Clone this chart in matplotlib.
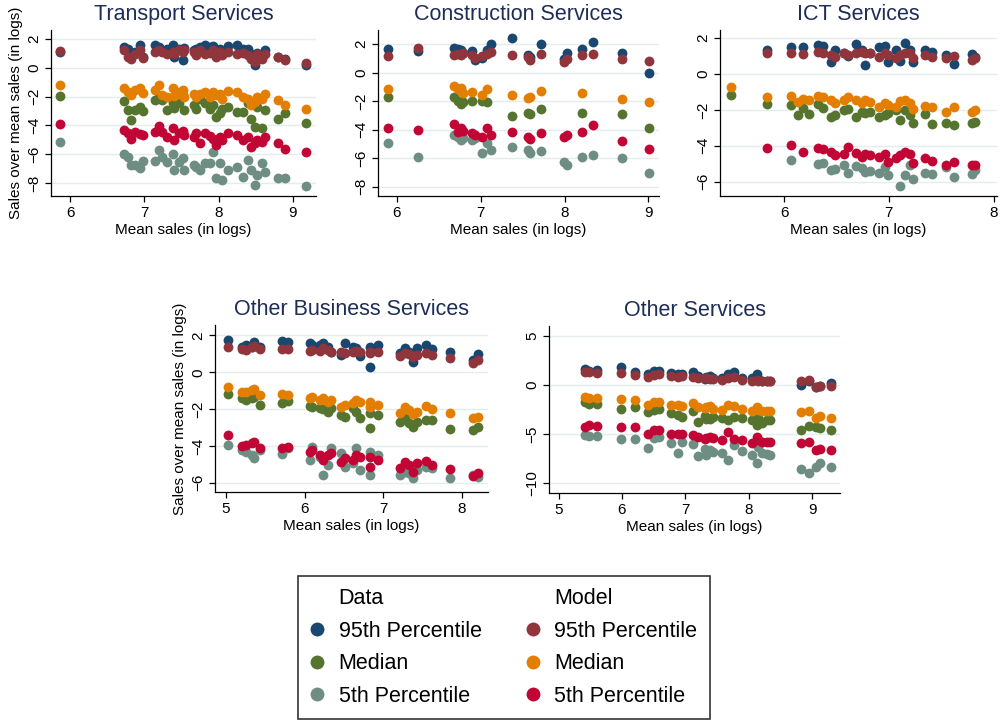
import numpy as np
import matplotlib.pyplot as plt
from matplotlib.lines import Line2D

plt.rcParams['font.family'] = ['Liberation Sans', 'DejaVu Sans']

nan = np.nan

# ── Transport Services ───────────────────────────────────────────────────────
trans_x = [5.87, 6.72, 6.78, 6.82, 6.87, 6.94, 6.98, 7.14, 7.20, 7.24, 7.30, 7.38, 7.40,
           7.46, 7.52, 7.54, 7.67, 7.70, 7.75, 7.81, 7.88, 7.93, 7.97, 8.02, 8.05, 8.13,
           8.24, 8.33, 8.40, 8.44, 8.49, 8.51, 8.58, 8.62, 8.80, 8.89, 9.18]
trans_d95 = [1.10, 1.43, 1.30, 0.70, 1.10, 1.54, 0.75, 1.54, 1.43, 1.20, 1.30, 1.59, 0.74,
             1.30, 0.55, 1.36, 1.20, 1.31, 1.43, 1.54, 1.43, 1.47, 1.30, 1.31, 1.10, 1.47,
             1.54, 1.31, 1.31, 0.97, 0.16, 1.00, 0.74, 1.20, 0.74, 0.62, 0.16]
trans_dmed = [-1.98, -2.30, -2.90, -3.59, -2.94, -2.71, -2.99, -2.25, -2.02, -2.25, -2.94, -2.48, -2.76,
              -2.48, -1.91, -2.94, -2.60, -2.83, -2.14, -2.48, -2.83, -2.60, -3.40, -3.17, -2.83, -2.71,
              -3.06, -3.06, -2.48, -3.52, -4.09, -2.71, -4.20, -2.94, -3.52, -3.17, -3.82]
trans_d5 = [-5.17, -6.00, -6.16, -6.74, -6.74, -6.97, -6.46, -6.46, -5.66, -6.16, -6.50, -5.98, -7.08,
            -6.50, -6.28, -7.08, -6.74, -6.85, -7.08, -6.62, -6.62, -5.82, -7.66, -6.62, -7.77, -7.08,
            -6.85, -7.54, -6.39, -7.08, -8.11, -7.40, -6.62, -7.20, -7.66, -7.66, -8.18]
trans_m95 = [1.13, 1.24, 0.74, 0.62, 0.97, 1.20, 0.69, 1.08, 1.20, 1.08, 0.97, 1.08, 0.97,
             1.20, 1.08, 1.24, 1.08, 0.85, 1.20, 0.97, 1.01, 1.20, 0.74, 1.08, 0.85, 1.08,
             0.97, 1.01, 0.85, 0.62, 0.39, 0.97, 0.62, 0.97, 0.74, 0.51, 0.32]
trans_mmed = [-1.22, -1.38, -1.68, -1.86, -1.56, -1.38, -1.75, -1.56, -1.22, -1.90, -2.02, -1.38, -1.98,
              -1.68, -1.52, -2.02, -1.79, -2.02, -1.79, -1.68, -2.02, -1.68, -1.91, -1.79, -2.14, -1.61,
              -1.68, -2.02, -2.14, -2.60, -2.37, -2.02, -2.14, -1.79, -2.21, -2.60, -2.83]
trans_m5 = [-3.93, -4.32, -4.55, -4.90, -4.44, -4.60, -4.67, -4.48, -4.05, -4.44, -4.78, -4.20, -5.01,
            -4.55, -4.37, -4.67, -4.78, -4.55, -5.24, -4.55, -4.74, -4.90, -5.36, -4.78, -5.01, -4.55,
            -4.67, -5.01, -4.78, -5.47, -5.24, -5.01, -5.13, -4.78, -5.24, -5.59, -5.82]

# ── Construction Services ────────────────────────────────────────────────────
cons_x = [5.89, 6.25, 6.68, 6.73, 6.77, 6.79, 6.89, 6.93, 7.01, 7.08, 7.12, 7.37, 7.56,
          7.59, 7.72, 7.99, 8.03, 8.21, 8.34, 8.68, 9.01]
cons_d95 = [1.64, 1.54, 1.71, 1.64, 1.59, 1.40, 1.54, 0.89, 1.00, 1.59, 1.99, 2.41, 1.24,
            1.10, 1.99, 0.94, 1.36, 1.64, 2.18, 1.40, 0.00]
cons_dmed = [-1.68, nan, -1.68, -1.96, -2.20, -2.04, -1.96, nan, -1.96, -2.04, nan, -3.04, -2.85,
             -2.90, -2.53, nan, nan, -2.85, nan, -2.92, -3.91]
cons_d5 = [-4.91, -5.94, -4.37, -4.54, -4.73, -4.61, -4.73, -4.60, -5.61, -4.91, -5.43, -5.24, -5.43,
           -5.61, -5.47, -6.25, -6.48, -5.89, -5.78, -6.01, -7.02]
cons_m95 = [1.17, 1.71, 1.24, 1.31, 1.24, 1.36, 1.24, 1.00, 1.17, 1.31, 1.47, 1.24, 1.08,
            0.89, 1.29, 0.77, 0.94, 1.24, 1.31, 0.94, 0.82]
cons_mmed = [-1.17, nan, -0.94, -1.17, -1.10, -1.45, -1.33, nan, -1.57, -1.17, nan, -1.57, -1.80,
             -1.73, -1.26, nan, nan, -1.40, nan, -1.87, -2.04]
cons_m5 = [-3.91, -4.02, -3.60, -4.14, -3.91, -4.07, -4.21, -4.37, -4.54, -3.91, -4.37, -4.14, -4.54,
           -4.68, -4.21, -4.54, -4.37, -4.14, -3.67, -4.77, -5.38]

# ── ICT Services ─────────────────────────────────────────────────────────────
ict_x = [5.49, 5.84, 6.07, 6.13, 6.18, 6.24, 6.32, 6.37, 6.45, 6.49, 6.57, 6.61, 6.69,
         6.74, 6.77, 6.82, 6.91, 6.96, 6.99, 7.07, 7.11, 7.15, 7.20, 7.23, 7.34, 7.41,
         7.54, 7.62, 7.79, 7.82]
ict_d95 = [nan, 1.34, 1.49, nan, 1.49, nan, 1.62, 1.55, 0.69, 1.34, 1.15, 1.00, 1.67,
           1.34, 0.50, 1.15, 1.49, 1.56, 0.69, 1.34, 0.74, 1.71, 1.34, 0.69, 1.34, 1.25,
           1.06, 0.56, 1.12, 0.97]
ict_dmed = [-1.17, -1.67, -1.73, -2.29, -1.91, -2.25, -1.67, -1.91, -2.38, -2.29, -2.01, -1.97, -2.38,
            -2.10, -2.19, -2.10, -2.42, -2.29, -2.19, -2.01, -2.57, -2.01, -2.29, -2.75, -2.23, -2.79,
            -2.71, -2.84, -2.75, -2.66]
ict_d5 = [nan, nan, -4.80, nan, nan, nan, -5.02, -4.94, -5.35, -5.32, -5.07, -5.50, -5.13,
          -5.26, -5.45, -5.39, -5.54, -5.17, -5.63, nan, -6.25, -5.63, -5.07, -5.87, -5.54, -5.58,
          -5.17, -5.72, -5.58, -5.35]
ict_m95 = [nan, 1.19, 1.15, nan, 1.12, nan, 1.25, 1.19, 1.06, 0.97, 1.19, 1.06, 1.19,
           1.25, 1.19, 1.19, 0.97, 1.19, 1.06, 0.87, 1.06, 1.15, 1.19, 0.87, 1.06, 0.97,
           0.87, 1.00, 0.78, 0.87]
ict_mmed = [-0.74, -1.30, -1.21, -1.54, -1.41, -1.45, -1.23, -1.30, -1.45, -1.60, -1.45, -1.30, -1.45,
            -1.64, -1.45, -1.54, -1.82, -1.64, -1.73, -1.82, -1.49, -1.45, -1.60, -1.97, -1.78, -1.86,
            -2.10, -1.86, -2.10, -2.01]
ict_m5 = [nan, -4.14, -3.96, nan, -4.33, nan, -4.14, -4.20, -4.33, -4.52, -4.46, -4.05, -4.42,
          -4.61, -4.46, -4.52, -4.61, -4.46, -4.89, -4.70, -4.52, -4.33, -4.46, -4.94, -4.70, -4.83,
          -5.07, -4.89, -5.07, -5.07]

# ── Other Business Services ──────────────────────────────────────────────────
obs_x = [5.03, 5.20, 5.26, 5.33, 5.36, 5.43, 5.71, 5.79, 6.07, 6.10, 6.20, 6.24, 6.30,
         6.34, 6.47, 6.51, 6.62, 6.66, 6.71, 6.83, 6.84, 6.94, 7.21, 7.28, 7.33, 7.38,
         7.43, 7.55, 7.62, 7.85, 8.15, 8.21]
obs_d95 = [1.76, 1.35, 1.49, 1.36, 1.67, 1.36, 1.72, 1.67, 1.58, 1.49, 1.49, 1.58, 1.40,
           1.12, 0.94, 1.58, 1.39, 1.30, 0.89, 1.39, 0.27, 1.49, 1.03, 1.30, 1.12, 0.58,
           1.30, 1.49, 1.25, 1.12, 0.67, 1.00]
obs_dmed = [-1.18, -1.41, -1.50, -1.41, -1.32, -1.78, -1.68, -1.54, -1.83, -1.87, -1.96, -2.01, -2.14,
            -1.96, -2.32, -2.41, -1.96, -2.14, -2.50, -2.23, -3.04, -2.32, -2.68, -2.50, -2.77, -2.95,
            -2.68, -2.59, -2.59, -3.10, -3.13, -2.95]
obs_d5 = [-3.95, -4.22, -4.31, -4.49, -4.67, -4.22, -4.44, -4.10, -4.76, -4.04, -4.60, -5.58, -5.04,
          -4.13, -4.40, -5.13, -4.95, -4.13, -5.31, -4.31, -5.58, -4.49, -5.58, -5.40, -5.50, -5.76,
          -5.31, -5.13, -5.22, -5.76, -5.58, -5.67]
obs_m95 = [1.39, 1.25, 1.21, 1.36, 1.43, 1.25, 1.25, 1.25, 1.18, 1.21, 1.18, 1.30, 1.21,
           1.12, 1.12, 1.07, 1.12, 1.18, 1.12, 1.12, 1.03, 1.12, 0.89, 1.03, 0.99, 0.85,
           0.94, 1.03, 0.94, 0.80, 0.53, 0.67]
obs_mmed = [-0.78, -1.05, -1.05, -0.96, -0.92, -1.23, -1.18, -1.23, -1.41, -1.32, -1.50, -1.41, -1.59,
            -1.50, -1.87, -1.78, -1.68, -1.50, -1.59, -1.59, -1.87, -1.78, -2.19, -1.87, -2.05, -2.26,
            -2.14, -1.83, -2.01, -2.23, -2.50, -2.41]
obs_m5 = [-3.41, -4.00, -3.95, -3.86, -3.77, -4.13, -4.13, -4.08, -4.31, -4.22, -4.49, -4.76, -4.49,
          -4.40, -4.86, -4.67, -4.76, -4.49, -4.58, -4.58, -5.13, -4.76, -5.22, -4.86, -5.04, -5.40,
          -4.95, -4.80, -5.04, -5.27, -5.63, -5.49]

# ── Other Services ───────────────────────────────────────────────────────────
oth_x = [5.42, 5.48, 5.60, 5.98, 6.20, 6.41, 6.50, 6.59, 6.77, 6.89, 6.94, 7.12, 7.20,
         7.31, 7.33, 7.39, 7.44, 7.58, 7.68, 7.76, 7.90, 8.05, 8.13, 8.14, 8.21, 8.29,
         8.34, 8.82, 8.95, 9.06, 9.12, 9.30]
oth_d95 = [1.62, 1.45, 1.55, 1.85, 1.35, 1.11, 1.45, 1.38, 1.21, 1.10, 1.11, 1.28, 0.94,
           0.61, 0.80, 0.94, 0.70, 0.71, 1.11, 1.28, 0.71, 0.71, 1.11, 0.60, 0.40, 0.44,
           0.40, 0.00, 0.44, -0.24, -0.10, 0.17]
oth_dmed = [-1.75, -1.92, -1.92, -2.43, -2.26, -2.77, -2.53, -2.43, -2.87, -3.10, -3.27, -2.60, -3.78,
            -3.20, -3.50, -3.44, -3.30, -3.37, -3.54, -3.27, -3.34, -3.61, -4.11, -3.40, -3.88, -3.61,
            -3.54, -4.55, -4.22, -4.28, -4.35, -4.55]
oth_d5 = [-5.13, -5.20, -5.19, -5.46, -5.53, -6.37, -5.36, -5.30, -5.90, -6.91, -5.80, -5.97, -7.25,
          -6.48, -7.15, -6.64, -6.80, -6.91, -7.66, -6.14, -6.71, -7.15, -7.99, -6.31, -6.90, -6.98,
          -7.15, -8.50, -8.94, -8.33, -7.99, -8.33]
oth_m95 = [1.28, 1.28, 1.21, 1.21, 1.05, 0.84, 1.05, 1.11, 0.88, 0.84, 0.94, 0.84, 0.71,
           0.71, 0.70, 0.61, 0.61, 0.51, 0.71, 0.84, 0.51, 0.44, 0.51, 0.40, 0.37, 0.44,
           0.44, 0.44, 0.51, -0.17, -0.10, -0.07]
oth_mmed = [-1.18, -1.32, -1.32, -1.42, -1.48, -2.02, -1.69, -1.69, -2.02, -2.02, -2.09, -1.85, -2.26,
            -2.33, -2.20, -2.19, -2.43, -2.53, -1.99, -2.19, -2.43, -2.66, -2.26, -2.50, -2.66, -2.66,
            -2.66, -2.77, -2.66, -3.34, -3.20, -3.34]
oth_m5 = [-4.28, -4.11, -4.22, -4.28, -4.28, -5.03, -4.62, -4.62, -4.96, -5.03, -5.03, -5.13, -5.30,
          -5.46, -5.40, -5.30, -5.36, -5.56, -4.79, -5.46, -5.63, -5.90, -5.30, -5.60, -5.80, -5.80,
          -5.80, -5.90, -5.80, -6.58, -6.48, -6.58]

series_labels = ['95th Percentile', 'Median', '5th Percentile']
data_colors = ['#1a476f', '#55752f', '#6e8e84']
model_colors = ['#90353b', '#e37e00', '#c10534']
title_color = '#1e2d58'
grid_color = '#e3ecee'

fig = plt.figure(figsize=(10.01, 7.24), dpi=100)
fig.patch.set_facecolor('white')


def panel(rect, title, x, data, model, xlim, ylim, xticks, yticks, ylabel=False):
    ax = fig.add_axes(rect)
    for ys, c in zip(data, data_colors):
        ax.scatter(x, ys, s=50, color=c, linewidths=0, zorder=3)
    for ys, c in zip(model, model_colors):
        ax.scatter(x, ys, s=50, color=c, linewidths=0, zorder=4)
    ax.set_xlim(*xlim)
    ax.set_ylim(*ylim)
    ax.set_xticks(xticks)
    ax.set_yticks(yticks)
    ax.grid(axis='y', color=grid_color, linewidth=1.0, zorder=0)
    ax.set_axisbelow(True)
    for s in ['top', 'right']:
        ax.spines[s].set_visible(False)
    for s in ['left', 'bottom']:
        ax.spines[s].set_linewidth(0.9)
    ax.tick_params(direction='out', length=4, width=0.9, labelsize=11, colors='black')
    ax.tick_params(axis='y', labelrotation=90, pad=3)
    for lab in ax.get_yticklabels():
        lab.set_va('center')
    ax.set_title(title, color=title_color, fontsize=15.5, pad=7)
    ax.set_xlabel('Mean sales (in logs)', fontsize=11, labelpad=2)
    if ylabel:
        ax.set_ylabel('Sales over mean sales (in logs)', fontsize=11, labelpad=3)
    return ax


panel([0.0507, 0.7293, 0.265, 0.2293], 'Transport Services', trans_x,
      [trans_d95, trans_dmed, trans_d5], [trans_m95, trans_mmed, trans_m5],
      (5.74, 9.31), (-8.87, 2.6), [6, 7, 8, 9], [-8, -6, -4, -2, 0, 2], ylabel=True)

panel([0.3773, 0.7293, 0.2813, 0.2293], 'Construction Services', cons_x,
      [cons_d95, cons_dmed, cons_d5], [cons_m95, cons_mmed, cons_m5],
      (5.77, 9.13), (-8.65, 3.0), [6, 7, 8, 9], [-8, -6, -4, -2, 0, 2])

panel([0.7193, 0.7293, 0.2767, 0.2293], 'ICT Services', ict_x,
      [ict_d95, ict_dmed, ict_d5], [ict_m95, ict_mmed, ict_m5],
      (5.39, 8.03), (-6.8, 2.45), [6, 7, 8], [-6, -4, -2, 0, 2])

panel([0.2148, 0.3209, 0.273, 0.2302], 'Other Business Services', obs_x,
      [obs_d95, obs_dmed, obs_d5], [obs_m95, obs_mmed, obs_m5],
      (4.86, 8.34), (-6.49, 2.57), [5, 6, 7, 8], [-6, -4, -2, 0, 2], ylabel=True)

panel([0.5485, 0.3195, 0.2907, 0.2302], 'Other Services', oth_x,
      [oth_d95, oth_dmed, oth_d5], [oth_m95, oth_mmed, oth_m5],
      (4.85, 9.44), (-10.96, 6.0), [5, 6, 7, 8, 9], [-10, -5, 0, 5])

# legend: two columns, each with a header row
handles = [Line2D([], [], linestyle='none', marker='', label='Data')]
handles += [Line2D([], [], linestyle='none', marker='o', markersize=10, color=c,
                   markeredgewidth=0, label=l) for c, l in zip(data_colors, series_labels)]
handles += [Line2D([], [], linestyle='none', marker='', label='Model')]
handles += [Line2D([], [], linestyle='none', marker='o', markersize=10, color=c,
                   markeredgewidth=0, label=l) for c, l in zip(model_colors, series_labels)]
leg = fig.legend(handles=handles, loc='center', bbox_to_anchor=(0.5035, 0.1057), ncol=2,
                 fontsize=15.5, frameon=True, fancybox=False, edgecolor='black',
                 handlelength=0.6, handletextpad=0.69, columnspacing=2.09,
                 labelspacing=0.54, borderpad=0.57)
leg.get_frame().set_linewidth(1.2)

fig.savefig('out.png', dpi=100, facecolor='white')
